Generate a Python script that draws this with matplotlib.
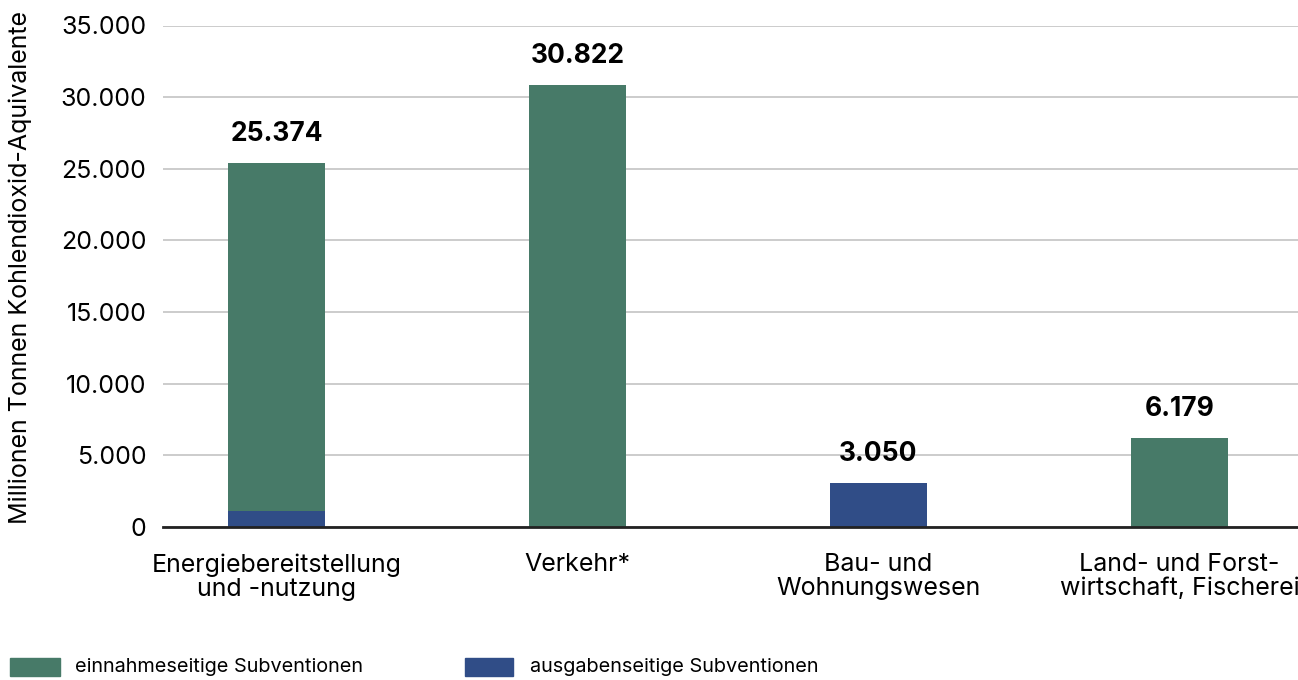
import matplotlib.pyplot as plt
import numpy as np
from matplotlib.ticker import FuncFormatter

plt.rcParams['font.family'] = ['Inter', 'DejaVu Sans']

# data
kategorien = ["Energiebereitstellung\nund -nutzung", "Verkehr*",
              "Bau- und\nWohnungswesen", "Land- und Forst-\nwirtschaft, Fischerei"]
einnahmeseitig = [24224, 30822, 0, 6179]
ausgabenseitig = [1150, 0, 3050, 0]
summen = [25374, 30822, 3050, 6179]
summen_text = ["25.374", "30.822", "3.050", "6.179"]

gruen = "#477a68"
blau = "#304d87"

fig = plt.figure(figsize=(12.98, 6.8), dpi=100)
ax = fig.add_axes([163/1298, 1 - 527/680, (1298-163)/1298, (527-25.5)/680])

x = np.arange(len(kategorien))
w = 0.322
ax.bar(x, ausgabenseitig, w, color=blau, zorder=3)
ax.bar(x, einnahmeseitig, w, bottom=ausgabenseitig, color=gruen, zorder=3)

for xi, s, t in zip(x, summen, summen_text):
    ax.annotate(t, (xi, s), xytext=(0, 12), textcoords="offset points",
                ha="center", va="bottom", fontsize=19, fontweight="bold")

ax.set_xlim(-0.377, 3.394)
ax.set_ylim(0, 35000)
ax.set_yticks(np.arange(0, 35001, 5000))
ax.yaxis.set_major_formatter(FuncFormatter(lambda v, p: f"{int(v):,}".replace(",", ".")))
ax.set_xticks(x)
ax.set_xticklabels(kategorien, fontsize=18, linespacing=1.05)
ax.tick_params(axis="y", length=0, labelsize=18, pad=12)
ax.tick_params(axis="x", length=0, pad=19)
ax.grid(axis="y", color="#c8c8c8", linewidth=1.3, zorder=0)
for s in ["top", "right", "left"]:
    ax.spines[s].set_visible(False)
ax.spines["bottom"].set_linewidth(2)
ax.spines["bottom"].set_color("#222222")
ax.spines["bottom"].set_zorder(4)

fig.text(20/1298, 1 - 268/680, "Millionen Tonnen Kohlendioxid-Aquivalente",
         rotation=90, ha="center", va="center", fontsize=18)

# legende
fig.patches.append(plt.Rectangle((10/1298, 1 - 676/680), 50/1298, 18/680,
                                 transform=fig.transFigure, color=gruen))
fig.text(75/1298, 1 - 667/680, "einnahmeseitige Subventionen", va="center", fontsize=14.3)
fig.patches.append(plt.Rectangle((465/1298, 1 - 676/680), 48/1298, 18/680,
                                 transform=fig.transFigure, color=blau))
fig.text(530/1298, 1 - 667/680, "ausgabenseitige Subventionen", va="center", fontsize=14.3)

fig.savefig("out.png", dpi=100)
